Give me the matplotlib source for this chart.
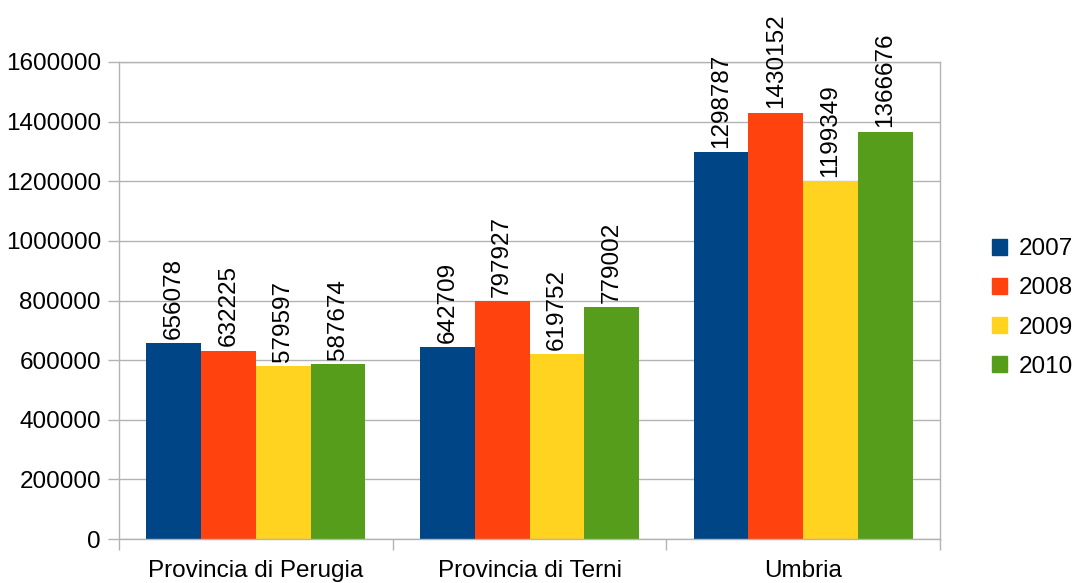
import numpy as np
import matplotlib.pyplot as plt
from matplotlib.patches import Patch

plt.rcParams['font.family'] = ['Liberation Sans', 'DejaVu Sans']

categories = ["Provincia di Perugia", "Provincia di Terni", "Umbria"]
years = ["2007", "2008", "2009", "2010"]
v2007 = [656078, 642709, 1298787]
v2008 = [632225, 797927, 1430152]
v2009 = [579597, 619752, 1199349]
v2010 = [587674, 779002, 1366676]
series = [v2007, v2008, v2009, v2010]
colors = ["#004586", "#ff420e", "#ffd320", "#579d1c"]

fs = 17.5

fig = plt.figure(figsize=(10.72, 5.83), dpi=100)
ax = fig.add_axes([119 / 1072, 1 - 539 / 583, (940 - 119) / 1072, (539 - 62) / 583])

x = np.arange(len(categories))
w = 0.2
for i, (vals, c) in enumerate(zip(series, colors)):
    pos = x + (i - 1.5) * w
    bars = ax.bar(pos, vals, width=w, color=c, zorder=2)
    for b, v in zip(bars, vals):
        ax.annotate(str(v), (b.get_x() + b.get_width() / 2, v),
                    xytext=(0, 3), textcoords="offset points",
                    rotation=90, ha="center", va="bottom", fontsize=fs,
                    annotation_clip=False)

ax.set_xlim(-0.5, 2.5)
ax.set_ylim(0, 1600000)
ax.set_yticks(np.arange(0, 1600001, 200000))
ax.set_yticklabels([str(t) for t in range(0, 1600001, 200000)], fontsize=fs)
ax.yaxis.grid(True, color="#b3b3b3", linewidth=1, zorder=0)
ax.set_axisbelow(True)

# category labels centered, ticks on the boundaries
ax.set_xticks(x)
ax.set_xticklabels(categories, fontsize=fs)
ax.tick_params(axis="x", length=0, pad=15)
ax.set_xticks([-0.5, 0.5, 1.5, 2.5], minor=True)
ax.tick_params(axis="x", which="minor", length=8, color="#b3b3b3", width=1)
ax.tick_params(axis="y", length=8, color="#b3b3b3", width=1, pad=5)

for s in ax.spines.values():
    s.set_color("#b3b3b3")
    s.set_linewidth(1)

handles = [Patch(color=c) for c in colors]
fig.legend(handles, years, loc="center left", bbox_to_anchor=(992 / 1072, 1 - 308 / 583),
           frameon=False, fontsize=fs, handlelength=0.6, handleheight=0.6,
           handletextpad=0.5, labelspacing=0.7, borderaxespad=0, borderpad=0)

fig.savefig("out.png", dpi=100)
